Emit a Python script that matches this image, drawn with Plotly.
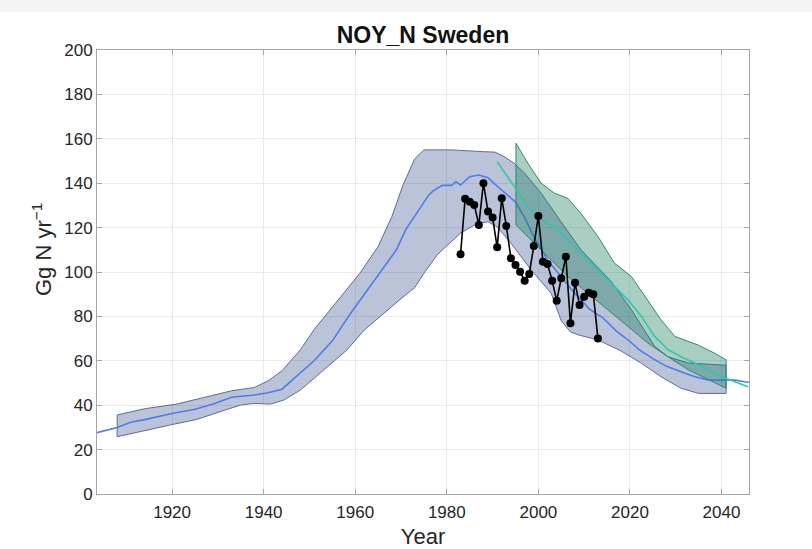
import plotly.graph_objects as go

# ---- data ----
model_years = [1903, 1908, 1911, 1914, 1920, 1925, 1929, 1933, 1938, 1941, 1944, 1947, 1951, 1953,
               1955, 1959, 1964, 1966, 1969, 1971, 1974, 1976, 1977, 1979, 1981, 1982, 1983, 1985,
               1987, 1989, 1990, 1992, 1995, 1997, 1999, 2002, 2005, 2008, 2010, 2011, 2014, 2017,
               2020, 2022, 2025, 2028, 2031, 2034, 2037, 2040, 2043, 2045, 2046]
model_vals = [27.3, 30.0, 32.3, 33.5, 36.3, 38.2, 40.5, 43.6, 44.6, 45.6, 47.2, 52.5, 60.0, 64.5,
              69.0, 81.4, 95.5, 101.5, 110.0, 119.0, 128.5, 134.5, 136.5, 139.0, 139.0, 140.7, 139.2, 142.9,
              143.7, 142.5, 140.5, 137.0, 131.5, 124.5, 116.0, 105.4, 97.9, 90.2, 86.0, 83.5, 79.5, 73.5,
              68.7, 65.0, 61.0, 57.5, 55.2, 52.9, 51.4, 51.4, 51.3, 50.6, 50.3]

band_up_years = [1908, 1914, 1921, 1925, 1930, 1933, 1938, 1941, 1944, 1948, 1951, 1955, 1961, 1965,
                 1968, 1970.5, 1973, 1975, 1981, 1988, 1990.5, 1992.5, 1994.7, 1997, 2000.6, 2005.7,
                 2009.3, 2016, 2020.3, 2025.4, 2028.3, 2032.7, 2041]
band_up_vals = [35.6, 38.4, 40.5, 42.5, 45.2, 46.5, 48.0, 51.0, 55.5, 64.9, 74.0, 84.0, 99.4, 111.5,
                125.0, 139.5, 151.0, 155.0, 155.0, 154.2, 154.0, 152.0, 149.0, 144.5, 135.5, 120.4,
                110.0, 95.5, 83.0, 66.5, 61.8, 59.0, 58.0]
band_lo_years = [1908, 1914.5, 1919.6, 1925.4, 1930.5, 1935, 1938, 1941.5, 1944.4, 1948, 1952.4, 1958.2,
                 1962, 1966, 1970, 1973, 1975, 1978, 1980, 1983, 1986.7, 1989, 1991, 1994, 1998.4,
                 2002.8, 2005, 2007, 2009, 2013, 2018, 2022.5, 2026.8, 2031.2, 2035, 2041]
band_lo_vals = [25.8, 28.8, 31.1, 33.6, 37.1, 40.1, 40.8, 40.5, 42.3, 46.8, 54.4, 64.9,
                73.9, 81.0, 88.0, 93.0, 99.4, 108.0, 112.0, 117.5, 122.0, 122.6, 120.4, 113.0, 101.0,
                90.4, 78.0, 73.0, 71.5, 69.4, 64.5, 58.9, 52.8, 47.6, 45.3, 45.3]

proj_years = [1991, 1993.3, 1995.5, 1997.7, 2000, 2001.3, 2003.5, 2006.4, 2009.3, 2012.2, 2015.2,
              2016.6, 2019.6, 2022.5, 2025.4, 2028.3, 2031.2, 2034.1, 2037.1, 2040, 2042.9, 2045.8]
proj_vals = [149.7, 143.0, 136.2, 129.4, 125.0, 122.6, 120.4, 114.4, 108.4, 102.4, 96.4,
             93.4, 87.4, 80.0, 71.0, 65.0, 61.8, 59.0, 56.0, 52.8, 50.6, 48.3]

proj_up_years = [1995.1, 1997.7, 2000.6, 2003.5, 2006.4, 2009.3, 2013, 2016.6, 2020.3, 2023.9, 2026.8,
                 2029.8, 2034.9, 2038.5, 2041]
proj_up_vals = [158.0, 149.0, 140.0, 135.5, 133.2, 126.4, 116.0, 104.0, 98.0, 87.4, 78.4,
                71.0, 67.1, 63.4, 60.4]
proj_lo_years = [1995.1, 1998.4, 2002, 2006.4, 2010.8, 2015.2, 2019.6, 2023.9, 2028.3, 2032.7, 2037.1, 2041]
proj_lo_vals = [121.2, 114.4, 107.0, 98.0, 90.4, 83.0, 75.4, 68.0, 61.8, 56.0, 51.4, 47.6]

obs_years = list(range(1983, 2014))
obs_vals = [108, 133, 131.7, 130.2, 121.2, 140, 127.2, 124.5, 111.1, 133.2, 120.7, 106.2, 103.2,
            100.1, 96.1, 99.1, 111.7, 125.2, 104.6, 103.6, 96.1, 87.1, 97.2, 106.9, 76.9, 95.2,
            85.1, 88.9, 90.7, 90.0, 70.1]

x_ticks = [1920, 1940, 1960, 1980, 2000, 2020, 2040]
y_ticks = [0, 20, 40, 60, 80, 100, 120, 140, 160, 180, 200]

FONT = "Liberation Sans"
W, H = 812, 549
ML, MR, MT, MB = 97, 63, 50, 55
PW, PH = W - ML - MR, H - MT - MB

fig = go.Figure()

# historical model band
fig.add_trace(go.Scatter(
    x=band_up_years + band_lo_years[::-1] + [band_up_years[0]],
    y=band_up_vals + band_lo_vals[::-1] + [band_up_vals[0]],
    fill="toself", fillcolor="rgba(30,55,130,0.30)",
    line=dict(color="#5d6c9c", width=1), mode="lines", hoverinfo="skip", showlegend=False))
fig.add_trace(go.Scatter(x=model_years, y=model_vals, mode="lines",
                         line=dict(color="#4d7ded", width=1.6), showlegend=False))

# projection band
fig.add_trace(go.Scatter(
    x=proj_up_years + proj_lo_years[::-1] + [proj_up_years[0]],
    y=proj_up_vals + proj_lo_vals[::-1] + [proj_up_vals[0]],
    fill="toself", fillcolor="rgba(20,125,90,0.37)",
    line=dict(color="#2f8a6e", width=1), mode="lines", hoverinfo="skip", showlegend=False))
fig.add_trace(go.Scatter(x=proj_years, y=proj_vals, mode="lines",
                         line=dict(color="#2ec7a8", width=1.6), showlegend=False))

# observations
fig.add_trace(go.Scatter(x=obs_years, y=obs_vals, mode="lines+markers",
                         line=dict(color="black", width=1.6),
                         marker=dict(color="black", size=8, symbol="circle"), showlegend=False))

axis_common = dict(showgrid=True, gridcolor="#ebebeb", gridwidth=1, showline=True,
                   linecolor="#a6a6a6", linewidth=1, mirror="ticks", ticks="inside",
                   ticklen=5, tickcolor="#a6a6a6", zeroline=False, automargin=False,
                   tickfont=dict(family=FONT, size=17, color="#262626"))

fig.update_layout(
    width=W, height=H,
    margin=dict(l=ML, r=MR, t=MT, b=MB),
    paper_bgcolor="white", plot_bgcolor="white",
    title=dict(text="<b>NOY_N Sweden</b>", x=0.5, xref="paper", xanchor="center",
               y=1 - 35 / H, yref="container", yanchor="middle",
               font=dict(family=FONT, size=23, color="#111111")),
    xaxis=dict(range=[1903.6, 2046], tickvals=x_ticks, ticklabelstandoff=3,
               title=dict(text="Year", font=dict(family=FONT, size=22, color="#262626"), standoff=7),
               **axis_common),
    yaxis=dict(range=[0, 200], tickvals=y_ticks, **axis_common),
    annotations=[dict(text="Gg N yr<sup>−1</sup>", textangle=-90, xref="paper", yref="paper",
                      x=-(ML - 42) / PW, y=(H - MB - 250) / PH, xanchor="center", yanchor="middle",
                      showarrow=False, font=dict(family=FONT, size=22, color="#262626"))],
    shapes=[dict(type="rect", xref="paper", yref="paper", x0=-ML / PW, x1=1 + MR / PW,
                 y0=1 + (MT - 12) / PH, y1=1 + (MT + 1) / PH, fillcolor="#f3f4f6", line=dict(width=0),
                 layer="below")],
)

fig.write_html("out.html")
